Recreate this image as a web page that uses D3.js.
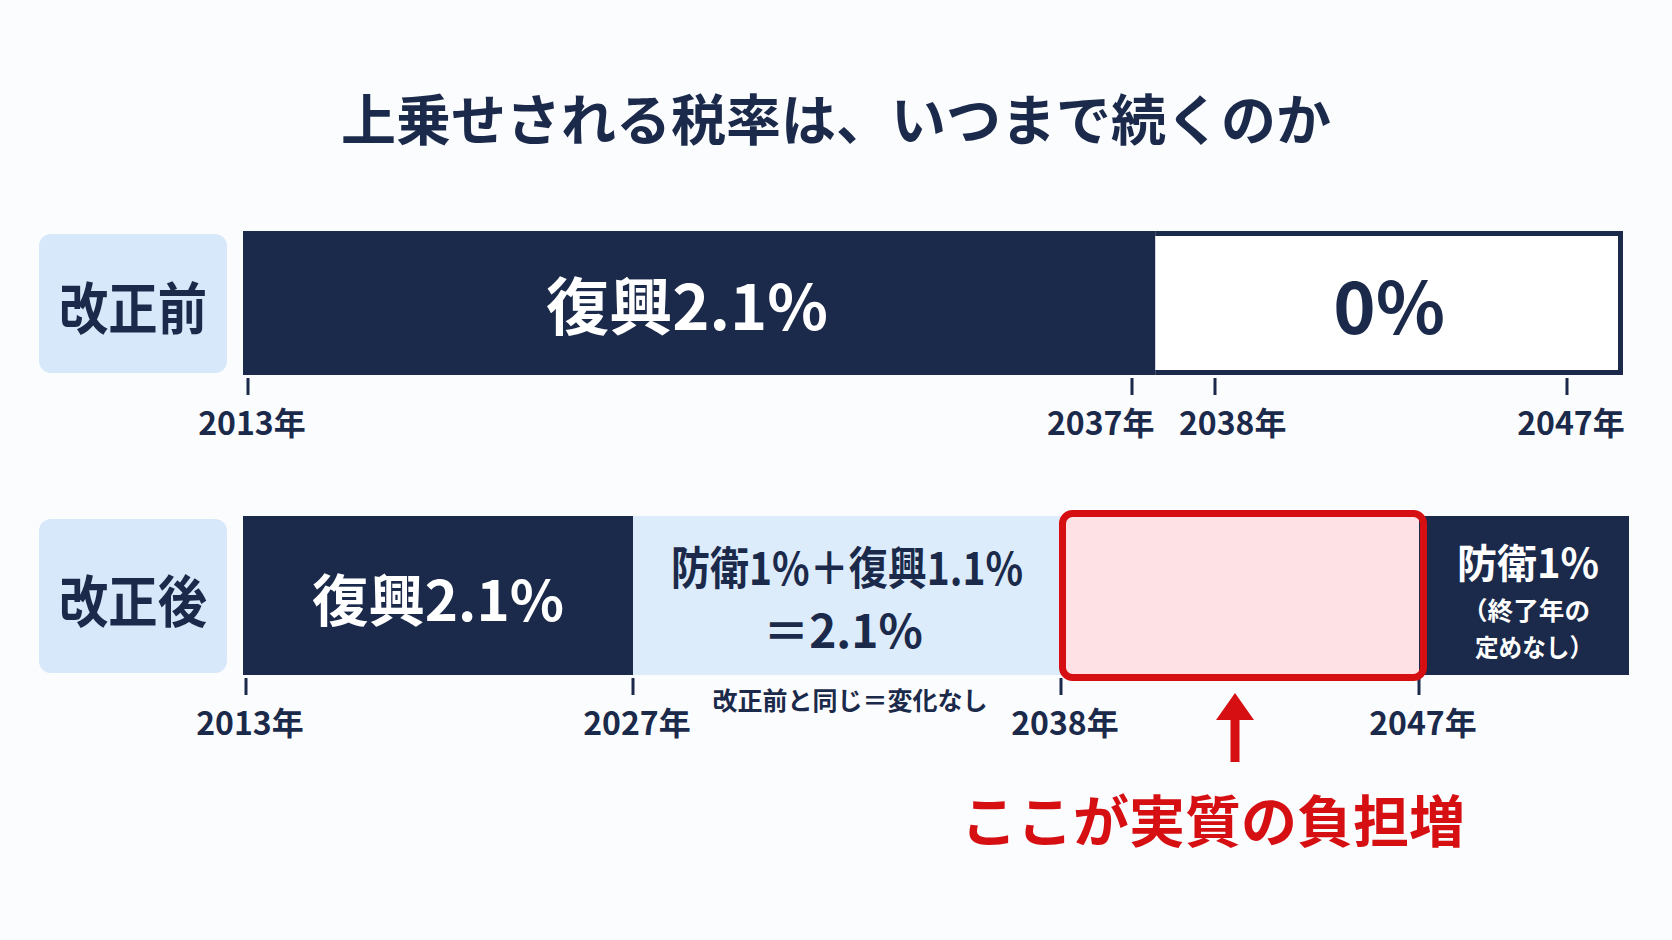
<!DOCTYPE html>
<html>
<head>
<meta charset="utf-8">
<script src="https://cdn.jsdelivr.net/npm/d3@7"></script>
<style>
  html, body { margin: 0; padding: 0; background: #fbfcfe; }
  svg text { font-family: "Noto Sans CJK JP", "Noto Sans", sans-serif; font-weight: 700; }
</style>
</head>
<body>
<div id="chart"></div>
<script>
// ---- data ----
var title = "上乗せされる税率は、いつまで続くのか";
var rowNames = ["改正前", "改正後"];

// 改正前
var beforeTicks = [2013, 2037, 2038, 2047];
var beforeStart = [2013, 2038];
var beforeEnd = [2037, 2047];
var beforeRate = [2.1, 0];
var beforeLabel = [["復興2.1%"], ["0%"]];

// 改正後 (null = 終了年の定めなし)
var afterTicks = [2013, 2027, 2038, 2047];
var afterStart = [2013, 2027, 2038, 2047];
var afterEnd = [2027, 2038, 2047, null];
var afterRate = [2.1, 2.1, 2.1, 1.0];
var afterLabel = [["復興2.1%"], ["防衛1%＋復興1.1%", "＝2.1%"], [], ["防衛1%", "（終了年の", "定めなし）"]];

var noteText = "改正前と同じ＝変化なし";
var calloutText = "ここが実質の負担増";

// ---- layout ----
var width = 1672, height = 940;
var navy = "#1b2a4a", lightBlue = "#dcecfb", boxBlue = "#d6e8f9",
    red = "#d50f12", pink = "#fde1e4";
var barLeft = 243;

var svg = d3.select("#chart").append("svg")
    .attr("width", width)
    .attr("height", height);

svg.append("rect").attr("width", width).attr("height", height).attr("fill", "#fbfcfe");

// title
svg.append("text")
    .attr("x", 836).attr("y", 140)
    .attr("text-anchor", "middle")
    .attr("font-size", 55)
    .attr("font-weight", 900)
    .attr("fill", navy)
    .text(title);

// uneven timelines: each row has its own piecewise scale
var xBefore = d3.scaleLinear().domain(beforeTicks).range([248, 1132, 1215, 1567]);
var xAfter = d3.scaleLinear().domain(afterTicks).range([246, 633, 1061, 1419]);

var rows = [
    {name: rowNames[0], x: xBefore, ticks: beforeTicks, start: beforeStart, end: beforeEnd,
     rate: beforeRate, label: beforeLabel, top: 231, h: 144, right: 1623},
    {name: rowNames[1], x: xAfter, ticks: afterTicks, start: afterStart, end: afterEnd,
     rate: afterRate, label: afterLabel, top: 516, h: 159, right: 1629}
];

rows.forEach(function (row, r) {
    var g = svg.append("g");

    // row label box
    g.append("rect")
        .attr("x", 39).attr("y", row.top + 3)
        .attr("width", 188).attr("height", row.h - 5)
        .attr("rx", 12)
        .attr("fill", boxBlue);
    g.append("text")
        .attr("x", 133).attr("y", row.top + row.h / 2 + 26)
        .attr("text-anchor", "middle")
        .attr("font-size", 56)
        .attr("font-weight", 900)
        .attr("textLength", 148).attr("lengthAdjust", "spacingAndGlyphs")
        .attr("fill", navy)
        .text(row.name);

    // segment edges
    var segs = row.start.map(function (s, i) {
        var x0 = i === 0 ? barLeft : null;
        var x1 = row.end[i] === null || i === row.start.length - 1 ? row.right : null;
        return {i: i, start: s, end: row.end[i], rate: row.rate[i], label: row.label[i], x0: x0, x1: x1};
    });
    for (var i = 0; i < segs.length - 1; i++) {
        var a = row.x(segs[i].end), b = row.x(segs[i + 1].start);
        var edge = a + (b - a) * 0.28;
        segs[i].x1 = edge;
        segs[i + 1].x0 = edge;
    }

    segs.forEach(function (s) {
        var fill, txt;
        if (r === 0) {
            fill = s.rate > 0 ? navy : "#ffffff";
            txt = s.rate > 0 ? "#ffffff" : navy;
        } else {
            if (s.i === 0 || s.i === 3) { fill = navy; txt = "#ffffff"; }
            else if (s.i === 1) { fill = lightBlue; txt = navy; }
            else { fill = pink; txt = navy; }
        }
        if (r === 0 && s.rate === 0) {
            // empty (0%) span: outlined box
            g.append("rect")
                .attr("x", s.x0).attr("y", row.top)
                .attr("width", s.x1 - s.x0).attr("height", row.h)
                .attr("fill", navy);
            g.append("rect")
                .attr("x", s.x0).attr("y", row.top + 5)
                .attr("width", s.x1 - s.x0 - 5).attr("height", row.h - 10)
                .attr("fill", fill);
        } else {
            g.append("rect")
                .attr("x", s.x0).attr("y", row.top)
                .attr("width", s.x1 - s.x0).attr("height", row.h)
                .attr("fill", fill);
        }
        s.txt = txt;
    });

    // segment texts
    segs.forEach(function (s) {
        var cx = (s.x0 + s.x1) / 2, cy = row.top + row.h / 2;
        var lines = s.label;
        if (!lines.length) return;
        var specs;
        if (r === 0) {
            specs = s.rate > 0 ? [{fs: 62, y: cy + 27, dx: -12, len: 282}] : [{fs: 72, y: cy + 31, dx: 0}];
        } else if (s.i === 0) {
            specs = [{fs: 56, y: cy + 25, dx: 0, len: 252}];
        } else if (s.i === 1) {
            specs = [{fs: 45, y: cy - 11, dx: 0, len: 352}, {fs: 46, y: cy + 52, dx: -4}];
        } else {
            specs = [{fs: 40, y: cy - 18, dx: 4},
                     {fs: 25, y: cy + 24, dx: 2, len: 128},
                     {fs: 25, y: cy + 61, dx: 10, len: 118}];
        }
        lines.forEach(function (line, k) {
            var t = g.append("text")
                .attr("x", cx + specs[k].dx).attr("y", specs[k].y)
                .attr("text-anchor", "middle")
                .attr("font-size", specs[k].fs)
                .attr("fill", s.txt)
                .text(line);
            if (specs[k].len) t.attr("textLength", specs[k].len).attr("lengthAdjust", "spacingAndGlyphs");
        });
    });

    // ticks
    var tickTop = row.top + row.h + 3;
    g.selectAll("line.tick").data(row.ticks).enter().append("line")
        .attr("class", "tick")
        .attr("x1", function (d) { return row.x(d); })
        .attr("x2", function (d) { return row.x(d); })
        .attr("y1", tickTop).attr("y2", tickTop + 17)
        .attr("stroke", navy).attr("stroke-width", 3);

    // tick labels, pushed apart when they collide
    var lw = 108, gap = 24;
    var pos = row.ticks.map(function (d) { return row.x(d); });
    for (var j = 0; j < pos.length - 1; j++) {
        var over = (pos[j] + lw / 2) - (pos[j + 1] - lw / 2) + gap;
        if (over > 0) { pos[j] -= over * 0.72; pos[j + 1] += over * 0.28; }
    }
    g.selectAll("text.tl").data(row.ticks).enter().append("text")
        .attr("class", "tl")
        .attr("x", function (d, k) { return pos[k] + 4; })
        .attr("y", tickTop + 57)
        .attr("text-anchor", "middle")
        .attr("font-size", 32)
        .attr("fill", navy)
        .text(function (d) { return d + "年"; });

    if (r === 1) {
        // note under the unchanged span
        g.append("text")
            .attr("x", (row.x(2027) + row.x(2038)) / 2 + 3)
            .attr("y", row.top + row.h + 35)
            .attr("text-anchor", "middle")
            .attr("font-size", 25)
            .attr("fill", navy)
            .text(noteText);

        // highlight of the real increase
        var hx0 = row.x(afterStart[2]) - 2, hx1 = row.x(afterEnd[2]) + 8;
        g.append("rect")
            .attr("x", hx0 + 3.5).attr("y", row.top - 2.5)
            .attr("width", hx1 - hx0 - 7).attr("height", row.h + 5)
            .attr("rx", 10)
            .attr("fill", "none")
            .attr("stroke", red).attr("stroke-width", 7);

        // arrow + callout
        var ax = (hx0 + hx1) / 2 - 8;
        g.append("line")
            .attr("x1", ax).attr("x2", ax)
            .attr("y1", 715).attr("y2", 762)
            .attr("stroke", red).attr("stroke-width", 9);
        g.append("path")
            .attr("d", "M" + (ax - 19) + ",720 L" + ax + ",693 L" + (ax + 19) + ",720 Z")
            .attr("fill", red);
        g.append("text")
            .attr("x", 1213).attr("y", 842)
            .attr("text-anchor", "middle")
            .attr("font-size", 56)
            .attr("font-weight", 900)
            .attr("fill", red)
            .text(calloutText);
    }
});
</script>
</body>
</html>
